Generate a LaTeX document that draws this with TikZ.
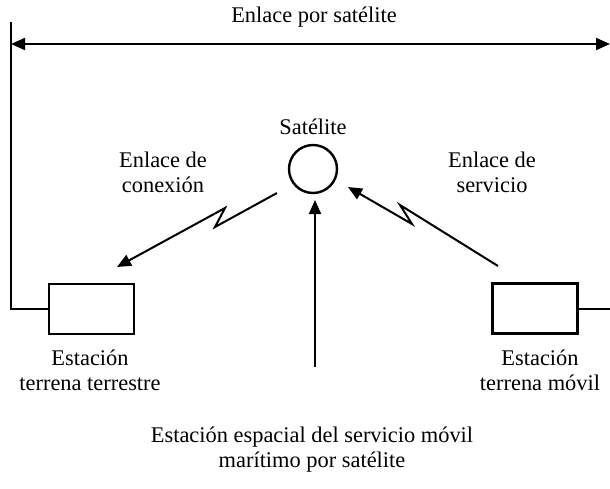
\documentclass[tikz,border=0pt]{standalone}
\usepackage{fontspec}
\setmainfont{Liberation Serif}
\usetikzlibrary{arrows.meta}
\tikzset{
	lbl/.style={align=center,font=\fontsize{11.2}{12.5}\selectfont,inner sep=0pt},
	estbox/.style={draw,line width=1.4pt,minimum width=42.5pt,minimum height=25pt,inner sep=0pt},
	tip/.style={Triangle[length=7pt,width=6pt]},
	sig/.style={line width=1pt,-{Triangle[length=7pt,width=6pt]}},
}
\begin{document}
\begin{tikzpicture}[x=0.5pt,y=-0.5pt]
	\useasboundingbox (0,0) rectangle (610,488);
	% estaciones y satelite
	\node[estbox] (tet) at (91.5,309) {};
	\node[estbox] (tem) at (535,308.5) {};
	\node[draw,circle,line width=1.2pt,minimum size=24pt,inner sep=0pt] (sat) at (313,169) {};
	% textos
	\node[lbl] (tit) at (314,17) {Enlace por satélite};
	\node[lbl] (tsat) at (313,127) {Satélite};
	\node[lbl] (tcon) at (163,172) {Enlace de\\conexión};
	\node[lbl] (tser) at (492,172) {Enlace de\\servicio};
	\node[lbl] (ttet) at (90,370) {Estación\\terrena terrestre};
	\node[lbl] (ttem) at (540,370) {Estación\\terrena móvil};
	\node[lbl] (tesp) at (312,450) {Estación espacial del servicio móvil\\marítimo por satélite};
	% enlace por satelite
	\coordinate (l0) at (11,22);
	\coordinate (l1) at (11,309);
	\coordinate (r1) at (610,308.5);
	\coordinate (a0) at (11,44);
	\coordinate (a1) at (610,44);
	\draw[line width=1pt] (l0) -- (l1) -- (tet.west);
	\draw[line width=1pt] (tem.east) -- (r1);
	\draw[line width=1pt,{Triangle[length=7pt,width=6pt]}-{Triangle[length=7pt,width=6pt]}] (a0) -- (a1);
	% enlaces de conexion y de servicio
	\coordinate (c0) at (277,193);
	\coordinate (c1) at (215,227);
	\coordinate (c2) at (225,208);
	\coordinate (c3) at (117,267);
	\draw[sig] (c0) -- (c1) -- (c2) -- (c3);
	\coordinate (s0) at (498,266);
	\coordinate (s1) at (400,205);
	\coordinate (s2) at (412,224);
	\coordinate (s3) at (348,187);
	\draw[sig] (s0) -- (s1) -- (s2) -- (s3);
	% estacion espacial
	\coordinate (e0) at (315,367);
	\coordinate (e1) at (315,200);
	\draw[sig] (e0) -- (e1);
\end{tikzpicture}
\end{document}
